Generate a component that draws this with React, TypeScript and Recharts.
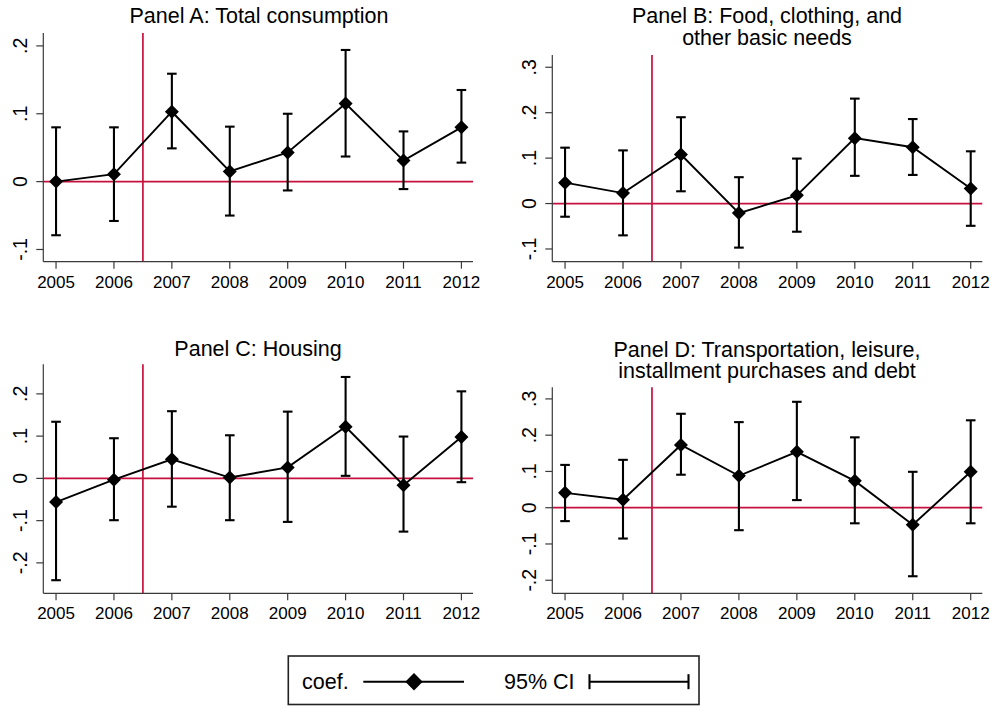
import React from "react";
import { ComposedChart, Line, XAxis, YAxis, ErrorBar, ReferenceLine } from "recharts";

// event-study coefficients with 95% CI
const years = [2005, 2006, 2007, 2008, 2009, 2010, 2011, 2012];

const coefA = [0.0, 0.011, 0.103, 0.015, 0.043, 0.115, 0.031, 0.08];
const lowA = [-0.079, -0.058, 0.049, -0.05, -0.013, 0.037, -0.011, 0.028];
const highA = [0.08, 0.08, 0.159, 0.081, 0.1, 0.194, 0.074, 0.135];

const coefB = [0.046, 0.023, 0.108, -0.021, 0.018, 0.144, 0.124, 0.033];
const lowB = [-0.029, -0.07, 0.027, -0.097, -0.062, 0.061, 0.063, -0.049];
const highB = [0.123, 0.117, 0.19, 0.058, 0.099, 0.231, 0.186, 0.115];

const coefC = [-0.056, -0.003, 0.045, 0.002, 0.026, 0.122, -0.016, 0.098];
const lowC = [-0.241, -0.099, -0.067, -0.099, -0.103, 0.006, -0.126, -0.009];
const highC = [0.134, 0.095, 0.159, 0.102, 0.158, 0.24, 0.099, 0.206];

const coefD = [0.041, 0.022, 0.173, 0.088, 0.154, 0.074, -0.047, 0.099];
const lowD = [-0.037, -0.085, 0.091, -0.062, 0.021, -0.043, -0.189, -0.043];
const highD = [0.118, 0.132, 0.259, 0.236, 0.292, 0.194, 0.099, 0.241];

const ticksA = [-0.1, 0, 0.1, 0.2];
const ticksB = [-0.1, 0, 0.1, 0.2, 0.3];
const ticksC = [-0.2, -0.1, 0, 0.1, 0.2];
const ticksD = [-0.2, -0.1, 0, 0.1, 0.2, 0.3];

const titleA = ["Panel A: Total consumption"];
const titleB = ["Panel B: Food, clothing, and", "other basic needs"];
const titleC = ["Panel C: Housing"];
const titleD = ["Panel D: Transportation, leisure,", "installment purchases and debt"];

const treatYear = 2006.5;

const FONT = "'Liberation Sans', Arial, sans-serif";
const RED = "#c8103e";
const AXIS = "#3a3a3a";

const buildRows = (coef: number[], low: number[], high: number[]) =>
  years.map((year, i) => ({
    year,
    coef: coef[i],
    err: [coef[i] - low[i], high[i] - coef[i]],
  }));

// Stata style labels: .1, -.2, 0
const stataFmt = (v: number) => {
  if (Math.abs(v) < 1e-9) return "0";
  const s = v.toFixed(1);
  return s.replace("0.", ".");
};

const Diamond = (props: any) => {
  const { cx, cy, index } = props;
  if (cx == null || cy == null) return <g key={index} />;
  const r = 7;
  return (
    <polygon
      key={index}
      points={`${cx},${cy - r} ${cx + r},${cy} ${cx},${cy + r} ${cx - r},${cy}`}
      fill="#000"
    />
  );
};

const YTick = (props: any) => {
  const { x, y, payload } = props;
  return (
    <g transform={`translate(${x - 14},${y}) rotate(-90)`}>
      <text textAnchor="middle" dy="0.36em" fontSize={19.5} fontFamily={FONT} fill="#000">
        {stataFmt(payload.value)}
      </text>
    </g>
  );
};

const XTick = (props: any) => {
  const { x, y, payload } = props;
  return (
    <text x={x} y={y} dy="0.71em" textAnchor="middle" fontSize={17} fontFamily={FONT} fill="#000">
      {payload.value}
    </text>
  );
};

interface PanelProps {
  left: number;
  top: number;
  plotLeft: number;
  plotTop: number;
  plotRight: number;
  plotBottom: number;
  domain: [number, number];
  ticks: number[];
  rows: { year: number; coef: number; err: number[] }[];
}

const W = 495;
const H = 300;

function Panel({ left, top, plotLeft, plotTop, plotRight, plotBottom, domain, ticks, rows }: PanelProps) {
  return (
    <div style={{ position: "absolute", left, top, width: W, height: H }}>
      <ComposedChart
        width={W}
        height={H}
        data={rows}
        margin={{ top: plotTop, right: W - plotRight, left: 0, bottom: 0 }}
      >
        <XAxis
          type="number"
          dataKey="year"
          domain={[2004.78, 2012.2]}
          ticks={years}
          allowDataOverflow
          height={H - plotBottom}
          axisLine={{ stroke: AXIS, strokeWidth: 1.2 }}
          tickLine={{ stroke: AXIS, strokeWidth: 1.2 }}
          tickSize={7}
          tickMargin={7}
          tick={<XTick />}
          interval={0}
        />
        <YAxis
          type="number"
          domain={domain}
          ticks={ticks}
          allowDataOverflow
          width={plotLeft}
          axisLine={{ stroke: AXIS, strokeWidth: 1.2 }}
          tickLine={{ stroke: AXIS, strokeWidth: 1.2 }}
          tickSize={7}
          tickMargin={2}
          tick={<YTick />}
          interval={0}
        />
        <ReferenceLine y={0} stroke={RED} strokeWidth={1.7} />
        <ReferenceLine x={treatYear} stroke={RED} strokeWidth={1.7} />
        <Line
          type="linear"
          dataKey="coef"
          stroke="#000"
          strokeWidth={1.9}
          dot={Diamond}
          activeDot={false}
          isAnimationActive={false}
        >
          <ErrorBar dataKey="err" direction="y" width={4.8} stroke="#000" strokeWidth={2.1} isAnimationActive={false} />
        </Line>
      </ComposedChart>
    </div>
  );
}

const Title = ({ x, y, lines }: { x: number; y: number; lines: string[] }) => (
  <text x={x} y={y} textAnchor="middle" fontSize={21.5} fontFamily={FONT} fill="#000">
    {lines.map((l, i) => (
      <tspan key={i} x={x} dy={i === 0 ? 0 : 21.7}>
        {l}
      </tspan>
    ))}
  </text>
);

export default function App() {
  return (
    <div style={{ position: "absolute", left: 0, top: 0, width: 990, height: 706, background: "#fff", overflow: "hidden" }}>
      <Panel left={0} top={0} plotLeft={43.3} plotTop={33} plotRight={473} plotBottom={261.7}
        domain={[-0.118, 0.219]} ticks={ticksA} rows={buildRows(coefA, lowA, highA)} />
      <Panel left={495} top={0} plotLeft={57.3} plotTop={55} plotRight={487.3} plotBottom={261.7}
        domain={[-0.128, 0.327]} ticks={ticksB} rows={buildRows(coefB, lowB, highB)} />
      <Panel left={0} top={330} plotLeft={43.3} plotTop={34.3} plotRight={473} plotBottom={263.3}
        domain={[-0.272, 0.27]} ticks={ticksC} rows={buildRows(coefC, lowC, highC)} />
      <Panel left={495} top={330} plotLeft={57.3} plotTop={57.3} plotRight={487.3} plotBottom={263.3}
        domain={[-0.236, 0.332]} ticks={ticksD} rows={buildRows(coefD, lowD, highD)} />

      <svg width={990} height={706} style={{ position: "absolute", left: 0, top: 0, pointerEvents: "none" }}>
        <Title x={259} y={23.3} lines={titleA} />
        <Title x={767} y={23.3} lines={titleB} />
        <Title x={258} y={356} lines={titleC} />
        <Title x={767} y={356.5} lines={titleD} />

        {/* legend */}
        <rect x={288.3} y={656} width={410.7} height={48.5} fill="#fff" stroke="#222" strokeWidth={1.6} />
        <text x={302} y={689} fontSize={21.5} fontFamily={FONT} fill="#000">coef.</text>
        <line x1={363.3} y1={681.7} x2={464} y2={681.7} stroke="#000" strokeWidth={1.9} />
        <polygon points="414,673 422.7,681.7 414,690.4 405.3,681.7" fill="#000" />
        <text x={504} y={689} fontSize={21.5} fontFamily={FONT} fill="#000">95% CI</text>
        <line x1={589.5} y1={681.7} x2={688.5} y2={681.7} stroke="#000" strokeWidth={2.1} />
        <line x1={589.5} y1={674.2} x2={589.5} y2={689.2} stroke="#000" strokeWidth={2.1} />
        <line x1={688.5} y1={674.2} x2={688.5} y2={689.2} stroke="#000" strokeWidth={2.1} />
      </svg>
    </div>
  );
}
